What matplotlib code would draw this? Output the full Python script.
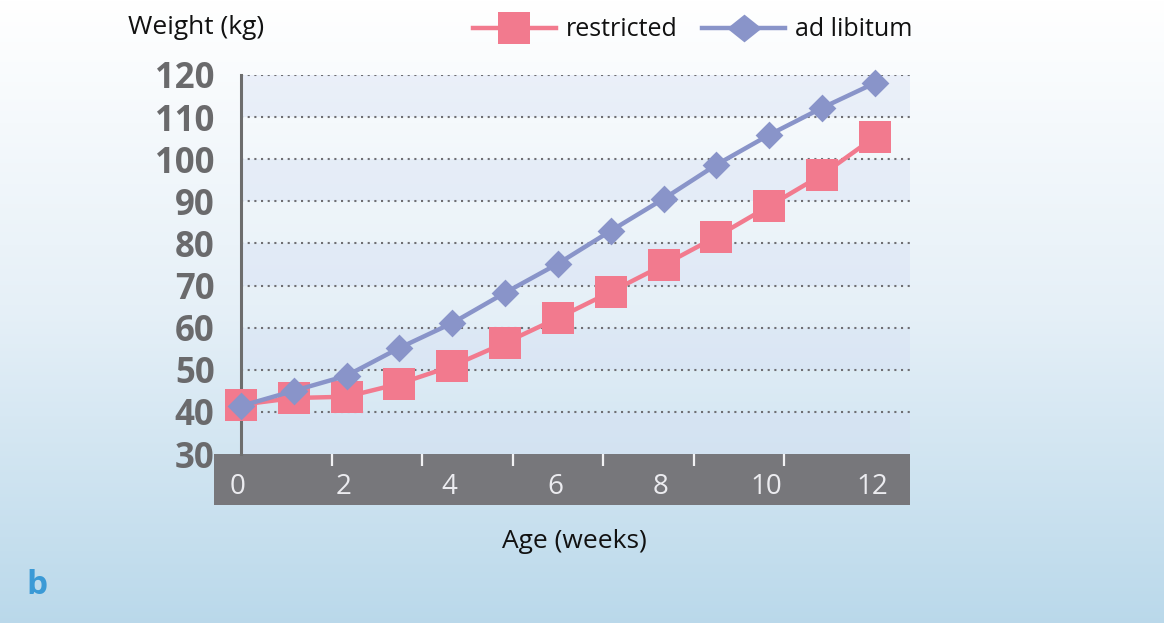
import numpy as np
import matplotlib
matplotlib.use("Agg")
import matplotlib.pyplot as plt
from matplotlib.lines import Line2D
from matplotlib.patches import Rectangle
from matplotlib.transforms import ScaledTranslation

plt.rcParams['font.family'] = ['Open Sans', 'DejaVu Sans']

# ---- data ----
weeks = list(range(13))
restricted = [41.7, 43.3, 43.6, 46.7, 50.9, 56.4, 62.3, 68.5, 74.9, 81.6, 88.9, 96.3, 105.3]
ad_libitum = [41.4, 45.0, 48.6, 55.2, 61.1, 68.3, 75.2, 83.0, 90.6, 98.7, 105.8, 112.2, 118.1]
y_ticks = [30, 40, 50, 60, 70, 80, 90, 100, 110, 120]
x_ticks = [0, 2, 4, 6, 8, 10, 12]
series_names = ["restricted", "ad libitum"]

PINK = '#f27a8e'
BLUE = '#8994c9'

W, H = 1164, 623
fig = plt.figure(figsize=(W / 100, H / 100), dpi=100)

# background gradient
bg = fig.add_axes([0, 0, 1, 1], zorder=-10)
top = np.array([1.0, 1.0, 1.0])
mid = np.array([0.90, 0.94, 0.97])
bot = np.array([0.73, 0.85, 0.92])
t = np.linspace(0, 1, 256)[:, None]
grad = np.where(t < 0.5, top + (mid - top) * (t / 0.5), mid + (bot - mid) * ((t - 0.5) / 0.5))
bg.imshow(grad[:, None, :], aspect='auto', extent=[0, 1, 0, 1])
bg.axis('off')

# gray x-axis band
band = Rectangle((214 / W, 1 - 505 / H), (910 - 214) / W, 51 / H,
                 transform=fig.transFigure, facecolor='#77777b', edgecolor='none', zorder=-1)
fig.add_artist(band)

ax = fig.add_axes([241 / W, 1 - 454 / H, (910 - 241) / W, (454 - 75) / H])
ax.patch.set_alpha(0)
ax.set_xlim(0, (910 - 241) / 52.83)
ax.set_ylim(30, 120)

# alternating bands
for lo in range(30, 120, 20):
    ax.axhspan(lo, lo + 10, color='#d5dff3', alpha=0.4, lw=0, zorder=0)

# dotted grid lines
for yv in y_ticks[1:]:
    ax.axhline(yv, color='#6e6e72', lw=1.5, linestyle=(0, (1, 2.2)), zorder=1)

diamond = [(-1, 0), (0, 1), (1, 0), (0, -1), (-1, 0)]
ax.plot(weeks, restricted, color=PINK, lw=3.2, marker='s', markersize=23,
        markeredgewidth=0, zorder=3, clip_on=False)
ax.plot(weeks, ad_libitum, color=BLUE, lw=3.2, marker=diamond, markersize=20,
        markeredgewidth=0, zorder=4, clip_on=False)

for s in ['top', 'right', 'bottom']:
    ax.spines[s].set_visible(False)
ax.spines['left'].set_color('#6d6d6d')
ax.spines['left'].set_linewidth(2.2)
ax.spines['left'].set_zorder(2)

ax.set_yticks(y_ticks)
ax.set_yticklabels([str(v) for v in y_ticks])
ax.tick_params(axis='y', length=0, pad=19, labelsize=25, labelcolor='#6a6a6c')
for lab in ax.get_yticklabels():
    lab.set_fontweight('bold')

ax.set_xticks(x_ticks)
ax.set_xticklabels([str(v) for v in x_ticks])
ax.set_xticks([12 * k / 7 for k in range(1, 8)], minor=True)
ax.tick_params(axis='x', which='major', length=0, pad=14, labelsize=20, labelcolor='#ececf0')
ax.tick_params(axis='x', which='minor', direction='out', length=8.5, width=1.6, color='#f2f2f4')
off = ScaledTranslation(-0.03, 0, fig.dpi_scale_trans)
for lab in ax.get_xticklabels():
    lab.set_transform(lab.get_transform() + off)

fig.text(128 / W, 1 - 27 / H, "Weight (kg)", fontsize=19, color='#111111', ha='left', va='center')
fig.text(574 / W, 1 - 541 / H, "Age (weeks)", fontsize=19, color='#111111', ha='center', va='center')
fig.text(26 / W, 1 - 586 / H, "b", fontsize=24, fontweight='bold', color='#3b9ad6', ha='left', va='center')

leg_diamond = [(-1, 0), (0, 0.8), (1, 0), (0, -0.8), (-1, 0)]
handles = [
    Line2D([], [], color=PINK, lw=3.2, marker='s', markersize=23, markeredgewidth=0),
    Line2D([], [], color=BLUE, lw=3.2, marker=leg_diamond, markersize=25, markeredgewidth=0),
]
fig.legend(handles, series_names, loc='center left', bbox_to_anchor=(473 / W, 1 - 30 / H),
           ncol=2, frameon=False, fontsize=18, handlelength=3.3, handletextpad=0.4,
           columnspacing=1.0, borderpad=0, borderaxespad=0, labelcolor='#111111')

fig.savefig('out.png', dpi=100)
